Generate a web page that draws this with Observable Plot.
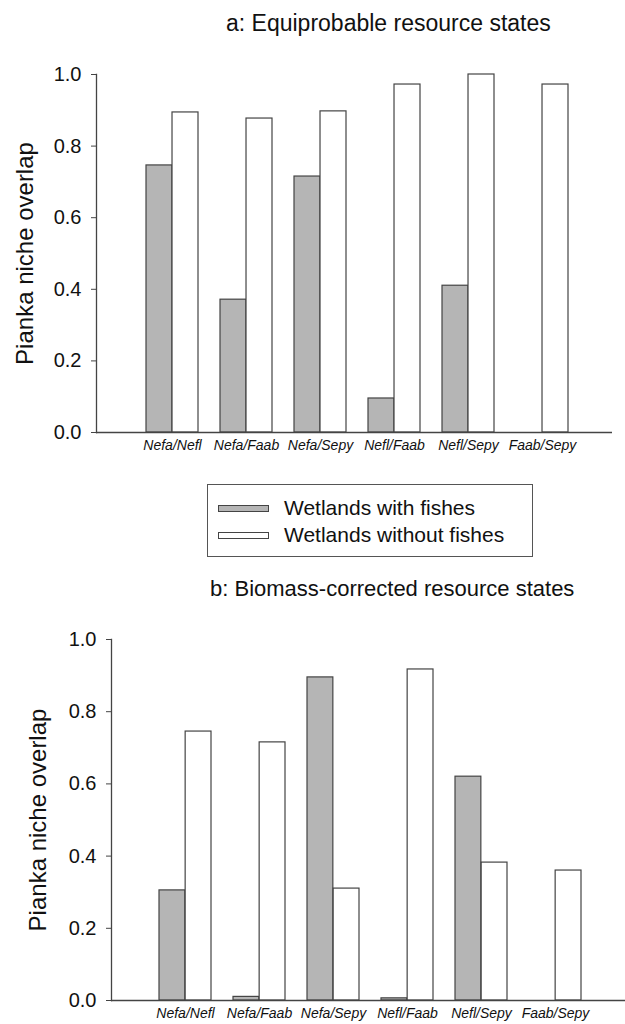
<!DOCTYPE html>
<html>
<head>
<meta charset="utf-8">
<script src="https://cdn.jsdelivr.net/npm/d3@7"></script>
<script src="https://cdn.jsdelivr.net/npm/@observablehq/plot@0.6"></script>
<style>
  html, body { margin: 0; padding: 0; background: #fff; }
  body { width: 625px; height: 1024px; position: relative; overflow: hidden;
         font-family: "Liberation Sans", Arial, sans-serif; color: #111; }
  .plot { position: absolute; left: 0; z-index: 1; }
  .title { position: absolute; line-height: 1; white-space: nowrap; z-index: 2; }
  .legend { position: absolute; left: 207px; top: 484px; width: 324px; height: 71px;
            border: 1px solid #555; box-sizing: content-box; z-index: 2; background: #fff; }
  .legend .row { position: absolute; left: 10px; height: 22px; display: flex; align-items: center; font-size: 21px; white-space: nowrap; }
  .legend .sw { width: 49px; height: 5px; border: 1px solid #444; margin-right: 15px; flex: none; }
  svg g[aria-label="x-axis tick label"] text { font-style: italic; }
</style>
</head>
<body>
<div class="title" style="left:226px; top:12px; font-size:23px;">a: Equiprobable resource states</div>
<div id="pa" class="plot" style="top:0px;"></div>
<div class="legend" id="legend"></div>
<div class="title" style="left:210px; top:578px; font-size:22px;">b: Biomass-corrected resource states</div>
<div id="pb" class="plot" style="top:570px;"></div>
<script>
const categories = ["Nefa/Nefl", "Nefa/Faab", "Nefa/Sepy", "Nefl/Faab", "Nefl/Sepy", "Faab/Sepy"];
const seriesNames = ["Wetlands with fishes", "Wetlands without fishes"];
const seriesColors = ["#b5b5b5", "#ffffff"];
const yTicks = [0, 0.2, 0.4, 0.6, 0.8, 1.0];
const yLabel = "Pianka niche overlap";

// Panel a: Equiprobable resource states
const aWith    = [0.746, 0.371, 0.715, 0.095, 0.410, null];
const aWithout = [0.894, 0.877, 0.897, 0.972, 1.000, 0.972];
// Panel b: Biomass-corrected resource states
const bWith    = [0.305, 0.010, 0.895, 0.006, 0.620, null];
const bWithout = [0.745, 0.715, 0.310, 0.917, 0.382, 0.360];

function rows(withV, withoutV) {
  const out = [];
  categories.forEach((c, i) => {
    if (withV[i] != null) out.push({cat: c, series: seriesNames[0], v: withV[i]});
    if (withoutV[i] != null) out.push({cat: c, series: seriesNames[1], v: withoutV[i]});
  });
  return out;
}

function panel({withV, withoutV, height, mt, mb, ml, mr, range, labelDx}) {
  const data = rows(withV, withoutV);
  const bw = (range[1] - range[0]) / categories.length * (1 - 0.297);
  const half = bw / 2;
  return Plot.plot({
    width: 625, height, marginTop: mt, marginBottom: mb, marginLeft: ml, marginRight: mr,
    style: {fontFamily: '"Liberation Sans", Arial, sans-serif', color: "#111", background: "transparent", overflow: "visible"},
    x: {domain: categories, range, paddingInner: 0.297, paddingOuter: 0.1485},
    y: {domain: [0, 1]},
    color: {domain: seriesNames, range: seriesColors},
    marks: [
      Plot.barY(data.filter(d => d.series === seriesNames[0]), {x: "cat", y: "v", fill: "series", stroke: "#444", strokeWidth: 1.2, insetRight: half}),
      Plot.barY(data.filter(d => d.series === seriesNames[1]), {x: "cat", y: "v", fill: "series", stroke: "#444", strokeWidth: 1.2, insetLeft: half}),
      Plot.ruleY([0], {stroke: "#444", strokeWidth: 1.3}),
      Plot.frame({anchor: "left", stroke: "#444", strokeWidth: 1.3}),
      Plot.axisY({ticks: yTicks, tickFormat: d3.format(".1f"), tickSize: 5, tickPadding: 10, fontSize: 20, label: null, stroke: "#444"}),
      Plot.axisX({tickSize: 0, tickPadding: 8, fontSize: 14, label: null}),
      Plot.text([yLabel], {frameAnchor: "left", textAnchor: "middle", rotate: -90, dx: -labelDx, fontSize: 24, fill: "#111"})
    ]
  });
}

document.getElementById("pa").append(panel({
  withV: aWith, withoutV: aWithout, height: 470, mt: 74, mb: 38, ml: 96, mr: 13,
  range: [135, 579], labelDx: 71
}));
document.getElementById("pb").append(panel({
  withV: bWith, withoutV: bWithout, height: 454, mt: 69, mb: 24, ml: 111, mr: 0,
  range: [146.8, 593.2], labelDx: 73
}));

const legend = document.getElementById("legend");
seriesNames.forEach((s, i) => {
  const row = document.createElement("div");
  row.className = "row";
  row.style.top = (i === 0 ? 12 : 39) + "px";
  const sw = document.createElement("div");
  sw.className = "sw";
  sw.style.background = seriesColors[i];
  row.append(sw, document.createTextNode(s));
  legend.append(row);
});
</script>
</body>
</html>
